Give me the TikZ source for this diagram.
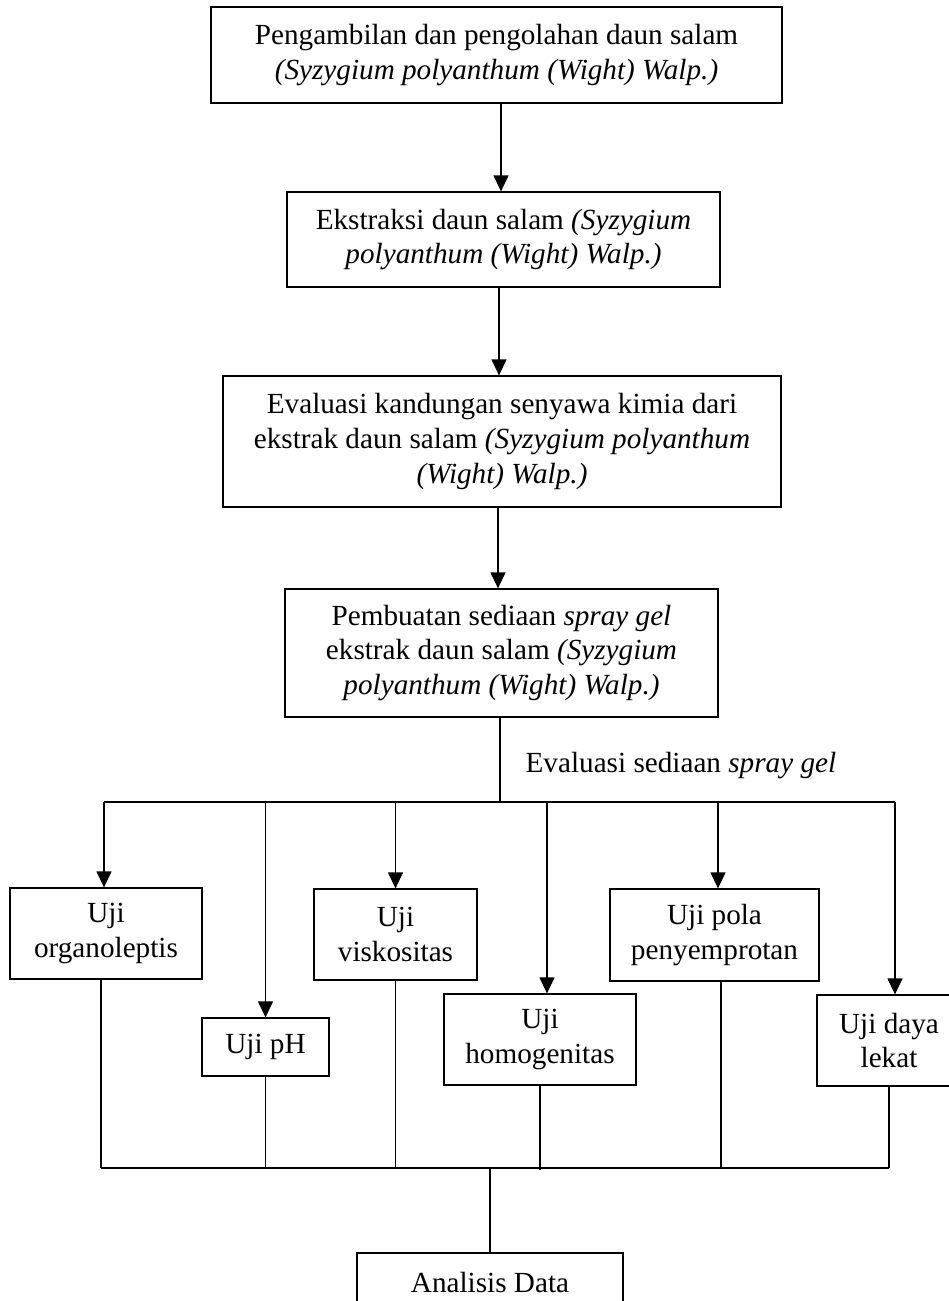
\documentclass[tikz,border=0pt]{standalone}
\usepackage{fontspec}
\setmainfont{Liberation Serif}
\usepackage{tikz}
\usetikzlibrary{arrows.meta}

\begin{document}
\begin{tikzpicture}[x=0.5pt,y=-0.5pt,>={Triangle[length=8pt,width=7.5pt]},line width=0.65pt,font=\fontsize{14.6}{17.3}\selectfont]
		\tikzstyle{process}=[rectangle, draw=black, align=center, inner sep=0pt]
		\tikzstyle{uji}=[process, minimum height=45.5pt]
		\useasboundingbox (0,0) rectangle (948,1301);

		% alur utama
		\node [process, minimum width=285.5pt, minimum height=48pt] (ambil) at (496.5,55) {Pengambilan dan pengolahan daun salam\\ \textit{(Syzygium polyanthum (Wight) Walp.)}};
		\node [process, minimum width=216.5pt, minimum height=47.5pt] (ekstrak) at (503.5,239.5) {Ekstraksi daun salam \textit{(Syzygium}\\ \textit{polyanthum (Wight) Walp.)}};
		\node [process, minimum width=279pt, minimum height=65.5pt] (kandungan) at (502,441.5) {Evaluasi kandungan senyawa kimia dari\\ ekstrak daun salam \textit{(Syzygium polyanthum}\\ \textit{(Wight) Walp.)}};
		\node [process, minimum width=216.5pt, minimum height=64pt] (sediaan) at (501.5,653) {Pembuatan sediaan \textit{spray gel}\\ ekstrak daun salam \textit{(Syzygium}\\ \textit{polyanthum (Wight) Walp.)}};

		\draw [->] ([xshift=2.25pt]ambil.south) -- ([xshift=2.25pt]ambil.south |- ekstrak.north);
		\draw [->] ([xshift=-2.25pt]ekstrak.south) -- ([xshift=-2.25pt]ekstrak.south |- kandungan.north);
		\draw [->] ([xshift=-2pt]kandungan.south) -- ([xshift=-2pt]kandungan.south |- sediaan.north);

		% evaluasi
		\coordinate (bagi) at (500,802);
		\node [anchor=base west, inner sep=0pt] (evaluasi) at (525,772) {Evaluasi sediaan \textit{spray gel}};

		\node [uji, minimum width=96pt] (organo) at (106,933.5) {Uji\\organoleptis};
		\node [process, minimum width=63.5pt, minimum height=29pt] (ph) at (265.5,1047) {Uji pH};
		\node [uji, minimum width=81.5pt] (visko) at (395.5,934.5) {Uji\\viskositas};
		\node [uji, minimum width=96pt] (homo) at (540,1039.5) {Uji\\homogenitas};
		\node [uji, minimum width=104.5pt, minimum height=46pt] (pola) at (714.5,935) {Uji pola\\penyemprotan};
		\node [uji, minimum width=72pt] (lekat) at (889,1040.5) {Uji daya\\lekat};

		\draw (sediaan.south -| bagi) -- (bagi);
		\draw ([xshift=-1pt]organo.north |- bagi) -- ([xshift=3pt]lekat.north |- bagi);
		\draw [->] ([xshift=-1pt]organo.north |- bagi) -- ([xshift=-1pt]organo.north);
		\draw [->] (ph.north |- bagi) -- (ph.north);
		\draw [->] (visko.north |- bagi) -- (visko.north);
		\draw [->] ([xshift=3.5pt]homo.north |- bagi) -- ([xshift=3.5pt]homo.north);
		\draw [->] ([xshift=1.75pt]pola.north |- bagi) -- ([xshift=1.75pt]pola.north);
		\draw [->] ([xshift=3pt]lekat.north |- bagi) -- ([xshift=3pt]lekat.north);

		% analisis
		\coordinate (gabung) at (490,1168);
		\node [process, minimum width=133pt, minimum height=29pt] (analisis) at (490,1282) {Analisis Data};

		\draw ([xshift=-2.5pt]organo.south) -- ([xshift=-2.5pt]organo.south |- gabung);
		\draw (ph.south) -- (ph.south |- gabung);
		\draw (visko.south) -- (visko.south |- gabung);
		\draw (homo.south) -- ([yshift=-1pt]homo.south |- gabung);
		\draw ([xshift=3.25pt]pola.south) -- ([xshift=3.25pt]pola.south |- gabung);
		\draw (lekat.south) -- (lekat.south |- gabung);
		\draw ([xshift=-2.5pt]organo.south |- gabung) -- (lekat.south |- gabung);
		\draw (gabung) -- (analisis.north);
	\end{tikzpicture}
\end{document}
